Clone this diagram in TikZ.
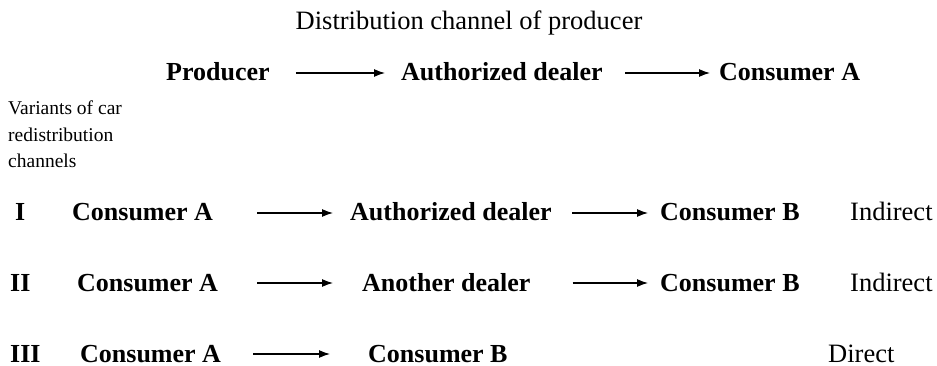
\documentclass[tikz,border=0pt]{standalone}
\usepackage{fontspec}
\setmainfont{Liberation Serif}
\usetikzlibrary{arrows.meta}
\begin{document}
\begin{tikzpicture}[x=1pt,y=-1pt,
  txt/.style={anchor=base west,inner sep=0pt,font=\fontsize{26}{28}\selectfont\bfseries},
  reg/.style={anchor=base west,inner sep=0pt,font=\fontsize{26.5}{28}\selectfont},
  small/.style={anchor=base west,inner sep=0pt,font=\fontsize{19.5}{21}\selectfont},
  arr/.style={-{Latex[length=11pt,width=8pt]},line width=1.2pt}]
\useasboundingbox (0,0) rectangle (937,366);
% title
\node[reg,anchor=base] (title) at (469,30) {Distribution channel of producer};
% row 0
\node[txt] (p0) at (166,81) {Producer};
\node[txt] (a0) at (401,81) {Authorized dealer};
\node[txt] (c0) at (719,81) {Consumer A};
\draw[arr,shorten <=26pt,shorten >=16pt] ([yshift=8pt]p0.base east) -- ([yshift=8pt]a0.base west);
\draw[arr,shorten <=22.5pt,shorten >=9pt] ([yshift=8pt]a0.base east) -- ([yshift=8pt]c0.base west);
% side label
\node[small] (v1) at (8,115) {Variants of car};
\node[small] (v2) at (8,142) {redistribution};
\node[small] (v3) at (8,168) {channels};
% row I
\node[txt] (n1) at (15,221) {I};
\node[txt] (a1) at (72,221) {Consumer A};
\node[txt] (b1) at (350,221) {Authorized dealer};
\node[txt] (c1) at (660,221) {Consumer B};
\node[reg] (d1) at (850,221) {Indirect};
\draw[arr,shorten <=44pt,shorten >=17pt] ([yshift=8pt]a1.base east) -- ([yshift=8pt]b1.base west);
\draw[arr,shorten <=20.5pt,shorten >=12pt] ([yshift=8pt]b1.base east) -- ([yshift=8pt]c1.base west);
% row II
\node[txt] (n2) at (10,291) {II};
\node[txt] (a2) at (77,291) {Consumer A};
\node[txt] (b2) at (362,291) {Another dealer};
\node[txt] (c2) at (660,291) {Consumer B};
\node[reg] (d2) at (850,291) {Indirect};
\draw[arr,shorten <=39pt,shorten >=29pt] ([yshift=8pt]a2.base east) -- ([yshift=8pt]b2.base west);
\draw[arr,shorten <=42pt,shorten >=12pt] ([yshift=8pt]b2.base east) -- ([yshift=8pt]c2.base west);
% row III
\node[txt] (n3) at (10,362) {III};
\node[txt] (a3) at (80,362) {Consumer A};
\node[txt] (c3) at (368,362) {Consumer B};
\node[reg] (d3) at (828,362) {Direct};
\draw[arr,shorten <=32pt,shorten >=38pt] ([yshift=8pt]a3.base east) -- ([yshift=8pt]c3.base west);
\end{tikzpicture}
\end{document}
